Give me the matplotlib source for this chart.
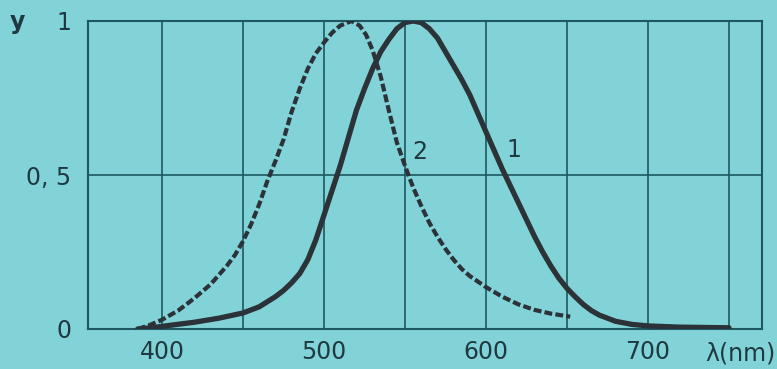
import numpy as np
import matplotlib
matplotlib.use("Agg")
import matplotlib.pyplot as plt

# ---------------- data ----------------
# curve 1 : solid line
wl_1 = [385, 395, 405, 420, 435, 450, 460, 470, 475, 480, 485, 490, 495, 500,
        505, 510, 515, 520, 525, 530, 535, 540, 545, 550, 555, 560, 565, 570,
        575, 580, 585, 590, 595, 600, 605, 610, 615, 620, 625, 630, 635, 640,
        645, 650, 655, 660, 665, 670, 680, 690, 700, 720, 750]
y_1 = [0.0, 0.005, 0.012, 0.022, 0.035, 0.052, 0.072, 0.105, 0.125, 0.15, 0.18,
       0.225, 0.29, 0.37, 0.45, 0.53, 0.62, 0.71, 0.78, 0.845, 0.9, 0.94, 0.975,
       0.995, 1.0, 0.995, 0.975, 0.945, 0.9, 0.855, 0.81, 0.76, 0.70, 0.64,
       0.58, 0.52, 0.465, 0.41, 0.355, 0.30, 0.25, 0.205, 0.165, 0.132, 0.105,
       0.08, 0.06, 0.045, 0.025, 0.015, 0.01, 0.006, 0.004]

# curve 2 : dashed line
wl_2 = [385, 392, 400, 410, 420, 430, 440, 445, 450, 455, 460, 465, 470, 475,
        480, 485, 490, 495, 500, 505, 510, 517, 522, 526, 530, 535, 540, 545,
        550, 555, 560, 565, 570, 575, 580, 585, 590, 600, 610, 620, 630, 640, 652]
y_2 = [0.0, 0.012, 0.03, 0.06, 0.10, 0.145, 0.205, 0.24, 0.285, 0.34, 0.405,
       0.48, 0.545, 0.615, 0.705, 0.78, 0.845, 0.895, 0.93, 0.962, 0.985, 1.0,
       0.985, 0.955, 0.905, 0.82, 0.71, 0.605, 0.53, 0.46, 0.40, 0.345, 0.30,
       0.26, 0.225, 0.195, 0.172, 0.136, 0.105, 0.08, 0.062, 0.05, 0.04]

x_ticks = [400, 450, 500, 550, 600, 650, 700, 750]
x_tick_labels = ["400", "", "500", "", "600", "", "700", ""]
y_ticks = [0, 0.5, 1]
y_tick_labels = ["0", "0, 5", "1"]

# ---------------- style ----------------
bg = "#82d3d7"
grid_c = "#1d5860"
curve_c = "#2b3238"
text_c = "#1e3a40"

fig = plt.figure(figsize=(7.77, 3.69), dpi=100)
fig.patch.set_facecolor(bg)
ax = fig.add_axes([88 / 777, 1 - 329 / 369, (762 - 88) / 777, (329 - 21) / 369])
ax.set_facecolor(bg)

ax.set_xlim(354.3, 770.4)
ax.set_ylim(0, 1)

ax.set_xticks(x_ticks)
ax.set_xticklabels(x_tick_labels)
ax.set_yticks(y_ticks)
ax.set_yticklabels(y_tick_labels)
ax.tick_params(length=0, colors=text_c, labelsize=17)
ax.tick_params(axis="x", pad=8)
ax.tick_params(axis="y", pad=12)

ax.grid(True, color=grid_c, linewidth=1.2)
for s in ax.spines.values():
    s.set_color(grid_c)
    s.set_linewidth(1.5)

ax.plot(wl_1, y_1, color=curve_c, linewidth=3.8, solid_capstyle="round",
        solid_joinstyle="round", zorder=3)
ax.plot(wl_2, y_2, color=curve_c, linewidth=3.0, dashes=(1.9, 0.75),
        dash_capstyle="butt", zorder=3)

ax.text(617, 0.58, "1", color=text_c, fontsize=17, ha="center", va="center")
ax.text(559, 0.575, "2", color=text_c, fontsize=17, ha="center", va="center")

fig.text(17 / 777, 1 - 22 / 369, "y", color=text_c, fontsize=17,
         fontweight="bold", ha="center", va="center")
fig.text(776 / 777, 1 - 353 / 369, "λ(nm)", color=text_c, fontsize=17,
         ha="right", va="center")

fig.savefig("out.png", dpi=100, facecolor=bg)
